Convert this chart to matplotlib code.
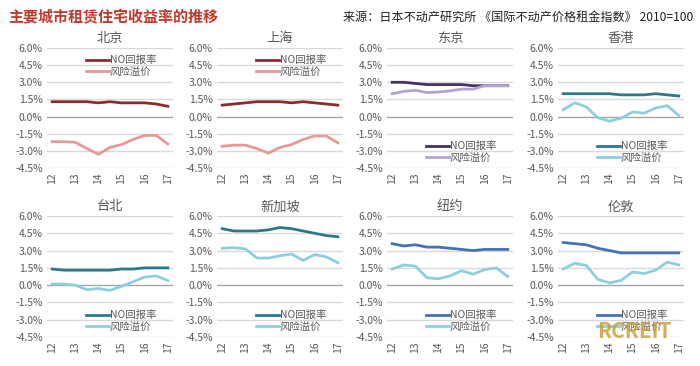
import matplotlib
matplotlib.use('Agg')
import matplotlib.pyplot as plt

plt.rcParams['font.family'] = ['Noto Sans CJK SC', 'DejaVu Sans']

# half-year points from 2012 to 2017
periods = ['12', '', '13', '', '14', '', '15', '', '16', '', '17']
cities = ['北京', '上海', '东京', '香港', '台北', '新加坡', '纽约', '伦敦']

no_yield = {
    '北京': [1.3, 1.3, 1.3, 1.3, 1.2, 1.3, 1.2, 1.2, 1.2, 1.1, 0.9],
    '上海': [1.0, 1.1, 1.2, 1.3, 1.3, 1.3, 1.2, 1.3, 1.2, 1.1, 1.0],
    '东京': [3.0, 3.0, 2.9, 2.8, 2.8, 2.8, 2.8, 2.7, 2.7, 2.7, 2.7],
    '香港': [2.0, 2.0, 2.0, 2.0, 2.0, 1.9, 1.9, 1.9, 2.0, 1.9, 1.8],
    '台北': [1.4, 1.3, 1.3, 1.3, 1.3, 1.3, 1.4, 1.4, 1.5, 1.5, 1.5],
    '新加坡': [4.9, 4.7, 4.7, 4.7, 4.8, 5.0, 4.9, 4.7, 4.5, 4.3, 4.2],
    '纽约': [3.6, 3.4, 3.5, 3.3, 3.3, 3.2, 3.1, 3.0, 3.1, 3.1, 3.1],
    '伦敦': [3.7, 3.6, 3.5, 3.2, 3.0, 2.8, 2.8, 2.8, 2.8, 2.8, 2.8],
}
risk_premium = {
    '北京': [-2.2, -2.2, -2.25, -2.8, -3.3, -2.7, -2.45, -2.0, -1.65, -1.65, -2.4],
    '上海': [-2.6, -2.5, -2.5, -2.8, -3.2, -2.7, -2.45, -2.0, -1.7, -1.7, -2.3],
    '东京': [2.0, 2.2, 2.3, 2.1, 2.15, 2.25, 2.4, 2.4, 2.7, 2.7, 2.7],
    '香港': [0.6, 1.2, 0.85, -0.1, -0.4, -0.15, 0.4, 0.3, 0.75, 0.95, 0.1],
    '台北': [0.1, 0.1, 0.0, -0.4, -0.3, -0.45, -0.1, 0.3, 0.7, 0.8, 0.4],
    '新加坡': [3.2, 3.25, 3.15, 2.35, 2.35, 2.55, 2.7, 2.15, 2.65, 2.45, 1.95],
    '纽约': [1.4, 1.75, 1.65, 0.65, 0.55, 0.8, 1.25, 0.95, 1.35, 1.5, 0.75],
    '伦敦': [1.4, 1.9, 1.7, 0.5, 0.2, 0.4, 1.15, 1.0, 1.3, 2.0, 1.75],
}
y_ticks = [-4.5, -3.0, -1.5, 0.0, 1.5, 3.0, 4.5, 6.0]

colors = {
    '北京': ('#8c2b2e', '#e49a98'),
    '上海': ('#8c2b2e', '#e49a98'),
    '东京': ('#45325f', '#b3a3d3'),
    '香港': ('#2b7a8c', '#8ecfdd'),
    '台北': ('#2b7a8c', '#8ecfdd'),
    '新加坡': ('#2b7a8c', '#8ecfdd'),
    '纽约': ('#4472b4', '#8ecfdd'),
    '伦敦': ('#4472b4', '#8ecfdd'),
}

W, H = 700, 366
fig = plt.figure(figsize=(7, 3.66), dpi=100)
fig.patch.set_facecolor('white')

lefts = [47, 217, 387, 558]
rows = [(48, 168), (216, 337)]
gray = '#595959'

for i, city in enumerate(cities):
    r, c = divmod(i, 4)
    top, bot = rows[r]
    ax = fig.add_axes([lefts[c] / W, 1 - bot / H, 126 / W, (bot - top) / H])
    x = list(range(len(periods)))
    dark, light = colors[city]
    ax.plot(x, no_yield[city], color=dark, lw=2, label='NO回报率', zorder=3)
    ax.plot(x, risk_premium[city], color=light, lw=2, label='风险溢价', zorder=3)
    ax.set_xlim(-0.45, 10.45)
    ax.set_ylim(-4.5, 6.0)
    ax.set_yticks(y_ticks)
    ax.set_yticklabels([f'{v:.1f}%' for v in y_ticks])
    ax.set_xticks(x[::2])
    ax.set_xticklabels(periods[::2], rotation=90)
    for v in y_ticks:
        ax.axhline(v, color='#a6a6a6' if v == 0 else '#d9d9d9', lw=1, zorder=1)
    for s in ax.spines.values():
        s.set_visible(False)
    ax.tick_params(length=0, labelsize=7.5, colors=gray, pad=3)
    ax.set_title(city, fontsize=9.5, color=gray, pad=4)
    if r == 0 and c < 2:
        ax.legend(loc='upper left', bbox_to_anchor=(0.25, 1.0), frameon=False,
                  fontsize=7.5, labelcolor=gray, handlelength=2.2, handletextpad=0.1,
                  labelspacing=0.15, borderpad=0.2)
    else:
        ax.legend(loc='lower left', bbox_to_anchor=(0.25, -0.02), frameon=False,
                  fontsize=7.5, labelcolor=gray, handlelength=2.2, handletextpad=0.1,
                  labelspacing=0.15, borderpad=0.2)

fig.text(8 / W, 1 - 17 / H, '主要城市租赁住宅收益率的推移', fontsize=10.8, fontweight='bold',
         color='#c0392b', va='center', ha='left')
fig.text(693 / W, 1 - 17 / H, '来源：日本不动产研究所 《国际不动产价格租金指数》 2010=100',
         fontsize=8.7, color='#222222', va='center', ha='right')
fig.text(634 / W, 1 - 331 / H, 'RCREIT', fontsize=15, fontweight='bold',
         color='#c9a13b', alpha=0.85, va='center', ha='center')

fig.savefig('out.png', dpi=100)
